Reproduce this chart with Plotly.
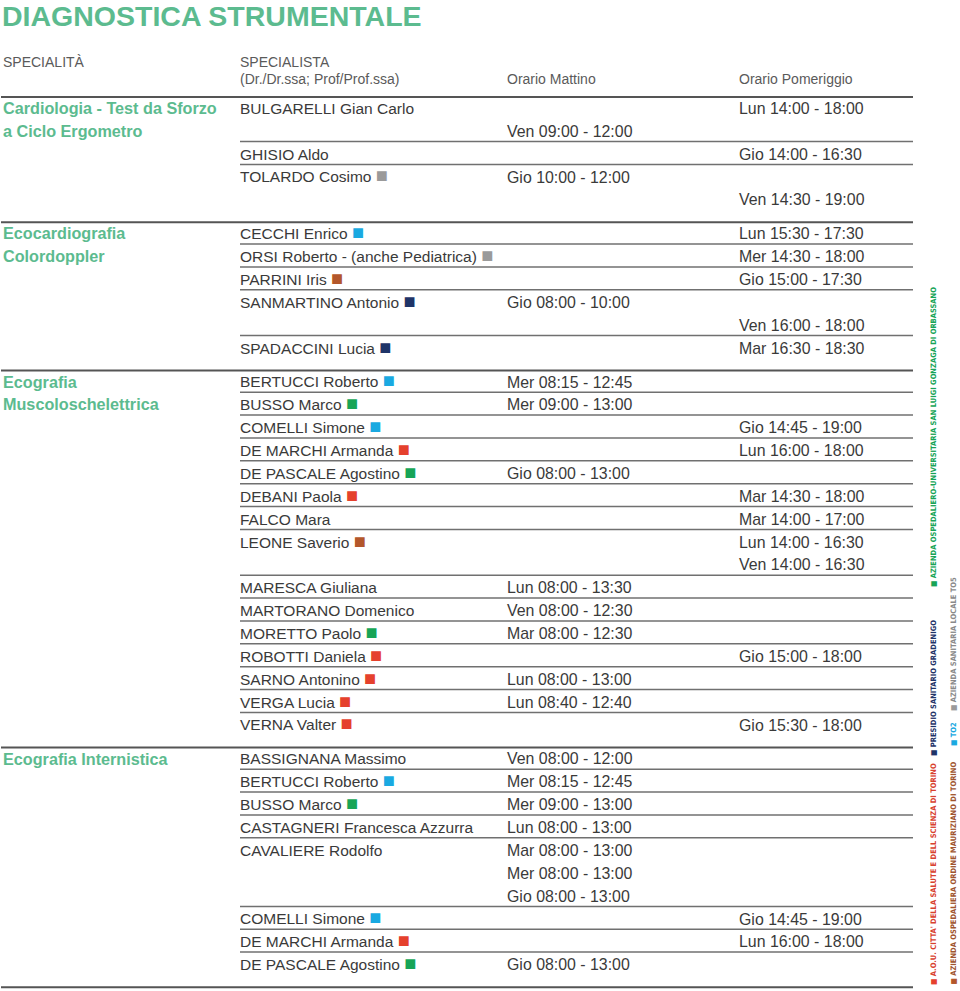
import plotly.graph_objects as go

# ---------------- DATA ----------------
title_text = "DIAGNOSTICA STRUMENTALE"
header_specialita = "SPECIALITÀ"
header_specialista = ["SPECIALISTA", "(Dr./Dr.ssa; Prof/Prof.ssa)"]
header_mattino = "Orario Mattino"
header_pomeriggio = "Orario Pomeriggio"

specialty_labels = [
    ["Cardiologia - Test da Sforzo", "a Ciclo Ergometro"],
    ["Ecocardiografia", "Colordoppler"],
    ["Ecografia", "Muscoloschelettrica"],
    ["Ecografia Internistica"],
]

cardio_names = ["BULGARELLI Gian Carlo", "GHISIO Aldo", "TOLARDO Cosimo"]
cardio_codes = [None, None, "TO5"]
cardio_times = [
    [("P", "Lun 14:00 - 18:00"), ("M", "Ven 09:00 - 12:00")],
    [("P", "Gio 14:00 - 16:30")],
    [("M", "Gio 10:00 - 12:00"), ("P", "Ven 14:30 - 19:00")],
]

ecocardio_names = ["CECCHI Enrico", "ORSI Roberto - (anche Pediatrica)", "PARRINI Iris",
                   "SANMARTINO Antonio", "SPADACCINI Lucia"]
ecocardio_codes = ["TO2", "TO5", "MAUR", "GRAD", "GRAD"]
ecocardio_times = [
    [("P", "Lun 15:30 - 17:30")],
    [("P", "Mer 14:30 - 18:00")],
    [("P", "Gio 15:00 - 17:30")],
    [("M", "Gio 08:00 - 10:00"), ("P", "Ven 16:00 - 18:00")],
    [("P", "Mar 16:30 - 18:30")],
]

musc_names = ["BERTUCCI Roberto", "BUSSO Marco", "COMELLI Simone", "DE MARCHI Armanda",
              "DE PASCALE Agostino", "DEBANI Paola", "FALCO Mara", "LEONE Saverio",
              "MARESCA Giuliana", "MARTORANO Domenico", "MORETTO Paolo", "ROBOTTI Daniela",
              "SARNO Antonino", "VERGA Lucia", "VERNA Valter"]
musc_codes = ["TO2", "SLG", "TO2", "AOU", "SLG", "AOU", None, "MAUR",
              None, None, "SLG", "AOU", "AOU", "AOU", "AOU"]
musc_times = [
    [("M", "Mer 08:15 - 12:45")],
    [("M", "Mer 09:00 - 13:00")],
    [("P", "Gio 14:45 - 19:00")],
    [("P", "Lun 16:00 - 18:00")],
    [("M", "Gio 08:00 - 13:00")],
    [("P", "Mar 14:30 - 18:00")],
    [("P", "Mar 14:00 - 17:00")],
    [("P", "Lun 14:00 - 16:30"), ("P", "Ven 14:00 - 16:30")],
    [("M", "Lun 08:00 - 13:30")],
    [("M", "Ven 08:00 - 12:30")],
    [("M", "Mar 08:00 - 12:30")],
    [("P", "Gio 15:00 - 18:00")],
    [("M", "Lun 08:00 - 13:00")],
    [("M", "Lun 08:40 - 12:40")],
    [("P", "Gio 15:30 - 18:00")],
]

intern_names = ["BASSIGNANA Massimo", "BERTUCCI Roberto", "BUSSO Marco",
                "CASTAGNERI Francesca Azzurra", "CAVALIERE Rodolfo", "COMELLI Simone",
                "DE MARCHI Armanda", "DE PASCALE Agostino"]
intern_codes = [None, "TO2", "SLG", None, None, "TO2", "AOU", "SLG"]
intern_times = [
    [("M", "Ven 08:00 - 12:00")],
    [("M", "Mer 08:15 - 12:45")],
    [("M", "Mer 09:00 - 13:00")],
    [("M", "Lun 08:00 - 13:00")],
    [("M", "Mar 08:00 - 13:00"), ("M", "Mer 08:00 - 13:00"), ("M", "Gio 08:00 - 13:00")],
    [("P", "Gio 14:45 - 19:00")],
    [("P", "Lun 16:00 - 18:00")],
    [("M", "Gio 08:00 - 13:00")],
]

legend_codes = ["AOU", "GRAD", "SLG", "MAUR", "TO2", "TO5"]
legend_labels = [
    "A.O.U. CITTA' DELLA SALUTE E DELL SCIENZA DI TORINO",
    "PRESIDIO SANITARIO GRADENIGO",
    "AZIENDA OSPEDALIERO-UNIVERSITARIA SAN LUIGI GONZAGA DI ORBASSANO",
    "AZIENDA OSPEDALIERA ORDINE MAURIZIANO DI TORINO",
    "TO2",
    "AZIENDA SANITARIA LOCALE TO5",
]

# ---------------- STYLE ----------------
code_colors = {"AOU": "#e5412d", "GRAD": "#1f3468", "SLG": "#17a457",
               "MAUR": "#b3572b", "TO2": "#1aa9e1", "TO5": "#9a9a9a"}
legend_text_colors = {"AOU": "#d8412e", "GRAD": "#1f3468", "SLG": "#17a457",
                      "MAUR": "#a0552e", "TO2": "#1aa9e1", "TO5": "#8a8a8a"}
GREEN = "#5cbb8f"
TXT = "#3a3a3a"
HDR = "#5a5a5a"
FONT = "Liberation Sans, Arial, sans-serif"

X_SPEC, X_NAME, X_AM, X_PM, X_END = 3, 240, 507, 739, 913
TOP0, SLOT, PAD, OFF = 97, 22.87, 11.0, 11.5
YS = 1.5  # vertical text centering correction

sections = [
    (cardio_names, cardio_codes, cardio_times),
    (ecocardio_names, ecocardio_codes, ecocardio_times),
    (musc_names, musc_codes, musc_times),
    (intern_names, intern_codes, intern_times),
]

fig = go.Figure()
shapes = []

spec_x, spec_y, spec_t = [], [], []
name_x, name_y, name_t = [], [], []
am_x, am_y, am_t = [], [], []
pm_x, pm_y, pm_t = [], [], []

top = TOP0
section_tops = [top]
for s_i, (names, codes, times) in enumerate(sections):
    for j, lbl in enumerate(specialty_labels[s_i]):
        spec_x.append(X_SPEC); spec_y.append(top + OFF + j * SLOT + YS); spec_t.append(lbl)
    slot = 0
    for k, (nm, cd, tl) in enumerate(zip(names, codes, times)):
        if k > 0:
            yl = top + slot * SLOT - 1.2
            shapes.append(dict(type="line", xref="x", yref="y", x0=X_NAME, x1=X_END,
                               y0=yl, y1=yl, line=dict(color="#707070", width=1.5)))
        txt = nm
        if cd:
            txt += " <span style='color:%s;font-size:20px'>■</span>" % code_colors[cd]
        name_x.append(X_NAME); name_y.append(top + OFF + slot * SLOT + YS); name_t.append(txt)
        for r, (col, t) in enumerate(tl):
            yy = top + OFF + (slot + r) * SLOT + YS
            if col == "M":
                am_x.append(X_AM); am_y.append(yy); am_t.append(t)
            else:
                pm_x.append(X_PM); pm_y.append(yy); pm_t.append(t)
        slot += max(1, len(tl))
    top = top + slot * SLOT + PAD
    section_tops.append(top)

for yt in section_tops:
    shapes.append(dict(type="line", xref="x", yref="y", x0=1, x1=X_END, y0=yt, y1=yt,
                       line=dict(color="#555555", width=2)))

def text_trace(xs, ys, ts, size, color, bold=False):
    return go.Scatter(x=xs, y=ys, text=ts, mode="text", textposition="middle right",
                      textfont=dict(family=FONT, size=size, color=color,
                                    weight="bold" if bold else "normal"),
                      hoverinfo="skip", showlegend=False, cliponaxis=False)

fig.add_trace(text_trace(spec_x, spec_y, spec_t, 16.2, GREEN, bold=True))
fig.add_trace(text_trace(name_x, name_y, name_t, 15.5, TXT))
fig.add_trace(text_trace(am_x, am_y, am_t, 15.9, TXT))
fig.add_trace(text_trace(pm_x, pm_y, pm_t, 15.9, TXT))

# title and header
fig.add_trace(text_trace([2], [17 + YS], [title_text], 28.5, GREEN, bold=True))
fig.add_trace(text_trace([X_SPEC, X_NAME, X_NAME, X_AM, X_PM],
                         [62 + YS, 62 + YS, 79 + YS, 79 + YS, 79 + YS],
                         [header_specialita, header_specialista[0], header_specialista[1],
                          header_mattino, header_pomeriggio], 14, HDR))

# vertical legend
leg_x = [933, 933, 933, 953, 953, 953]
leg_y = [986, 757, 588, 986, 747, 712]
annotations = []
for code, lbl, lx, ly in zip(legend_codes, legend_labels, leg_x, leg_y):
    annotations.append(dict(
        x=lx, y=ly, xref="x", yref="y", xanchor="center", yanchor="bottom",
        textangle=-90, showarrow=False,
        text="<span style='color:%s'>■</span> %s" % (code_colors[code], lbl),
        font=dict(family="Liberation Sans Narrow, DejaVu Sans Condensed, sans-serif",
                  size=7.5, color=legend_text_colors[code], weight="bold"),
        borderpad=0))

fig.update_layout(
    width=960, height=991, margin=dict(l=0, r=0, t=0, b=0),
    paper_bgcolor="white", plot_bgcolor="white",
    xaxis=dict(range=[0, 960], visible=False, fixedrange=True),
    yaxis=dict(range=[991, 0], visible=False, fixedrange=True),
    shapes=shapes, annotations=annotations,
)

fig.write_html("out.html", config={"displayModeBar": False},
               post_script="document.body.style.margin='0';document.body.style.overflow='hidden';")
